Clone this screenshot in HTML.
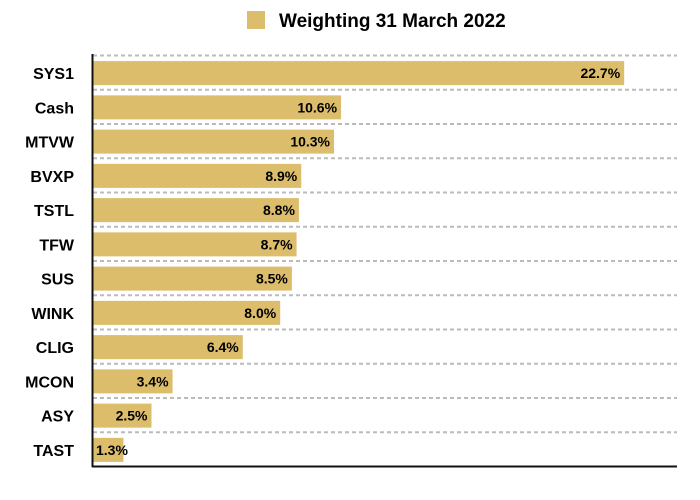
<!DOCTYPE html>
<html><head><meta charset="utf-8"><style>
body{margin:0;background:#fff;}
svg{display:block;font-family:"Liberation Sans",Arial,sans-serif;font-weight:bold;}
</style></head><body>
<svg id="chart" width="700" height="500" xmlns="http://www.w3.org/2000/svg">
<rect x="247" y="11" width="18" height="18" fill="#dcbd6b"/>
<text x="279" y="27" font-size="19" fill="#000">Weighting 31 March 2022</text>
<g id="grid"></g><g id="bars"></g>
<line x1="92.5" y1="54" x2="92.5" y2="467" stroke="#111" stroke-width="2"/>
<line x1="92" y1="466.5" x2="677" y2="466.5" stroke="#111" stroke-width="2"/>
</svg>
<script>
const categories=["SYS1","Cash","MTVW","BVXP","TSTL","TFW","SUS","WINK","CLIG","MCON","ASY","TAST"];
const values=[22.7,10.6,10.3,8.9,8.8,8.7,8.5,8.0,6.4,3.4,2.5,1.3];
const valueLabels=["22.7%","10.6%","10.3%","8.9%","8.8%","8.7%","8.5%","8.0%","6.4%","3.4%","2.5%","1.3%"];
const NS="http://www.w3.org/2000/svg";
const x0=93,pxPer=23.4,plotTop=55,pitch=34.25,barH=24;
function xs(v){return x0+v*pxPer;}
function yb(i){return plotTop+i*pitch;}
const grid=document.getElementById('grid'),bars=document.getElementById('bars');
for(let i=0;i<categories.length;i++){
  const gl=document.createElementNS(NS,'line');
  
  
  gl.setAttribute('x1',93);gl.setAttribute('x2',677);
  gl.setAttribute('y1',yb(i)+0.5);gl.setAttribute('y2',yb(i)+0.5);
  gl.setAttribute('stroke','#bbb');gl.setAttribute('stroke-width','2');gl.setAttribute('stroke-dasharray','4 3');
  grid.appendChild(gl);
  const y=yb(i)+(pitch-barH)/2+1;
  const r=document.createElementNS(NS,'rect');
  
  
  r.setAttribute('x',x0);r.setAttribute('y',y);
  r.setAttribute('width',xs(values[i])-x0);r.setAttribute('height',barH);
  r.setAttribute('fill','#dcbd6b');
  bars.appendChild(r);
  const c=document.createElementNS(NS,'text');
  
  
  c.setAttribute('x',74);c.setAttribute('y',y+18);c.setAttribute('text-anchor','end');
  c.setAttribute('font-size','16');c.textContent=categories[i];
  bars.appendChild(c);
  const t=document.createElementNS(NS,'text');
  
  
  t.setAttribute('font-size','14');t.setAttribute('y',y+17);
  const end=xs(values[i]);
  if(end-x0>50){t.setAttribute('x',end-4);t.setAttribute('text-anchor','end');}
  else{t.setAttribute('x',x0+3);}
  t.textContent=valueLabels[i];
  bars.appendChild(t);
}
</script>
</body></html>
